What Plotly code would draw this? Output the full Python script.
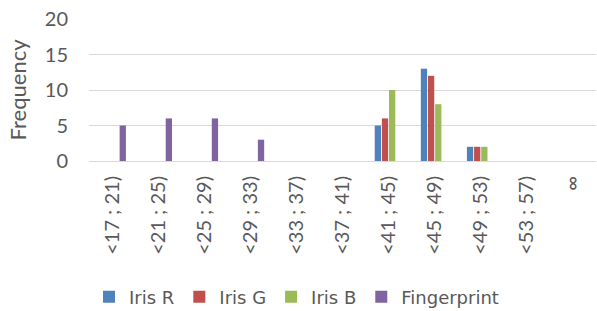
import plotly.graph_objects as go

categories = ["<17 ; 21)", "<21 ; 25)", "<25 ; 29)", "<29 ; 33)", "<33 ; 37)", "<37 ; 41)",
              "<41 ; 45)", "<45 ; 49)", "<49 ; 53)", "<53 ; 57)", "∞"]
iris_r = [0, 0, 0, 0, 0, 0, 5, 13, 2, 0, 0]
iris_g = [0, 0, 0, 0, 0, 0, 6, 12, 2, 0, 0]
iris_b = [0, 0, 0, 0, 0, 0, 10, 8, 2, 0, 0]
fingerprint = [5, 6, 6, 3, 0, 0, 0, 0, 0, 0, 0]

series = [("Iris R", iris_r, "#4F81BD"), ("Iris G", iris_g, "#C0504D"),
          ("Iris B", iris_b, "#9BBB59"), ("Fingerprint", fingerprint, "#8064A2")]

font_family = "Lato, Open Sans, sans-serif"
fig = go.Figure()
for name, vals, col in series:
    fig.add_trace(go.Bar(x=categories, y=vals, name=name, marker_color=col,
                         marker_line_width=0))

fig.update_layout(
    width=597, height=311,
    margin=dict(l=89, r=1, t=19, b=150, autoexpand=False),
    paper_bgcolor="white", plot_bgcolor="white",
    barmode="group", bargap=0.38, bargroupgap=0.12,
    font=dict(family=font_family, color="#595959", size=18),
    showlegend=True,
    legend=dict(orientation="h", x=0.0, xanchor="left", yref="container", y=0.045,
                yanchor="middle",
                font=dict(size=18, color="#595959", family="DejaVu Sans, sans-serif"),
                itemwidth=30, tracegroupgap=0),
)
fig.update_xaxes(tickangle=-90, showgrid=False, showline=True, linecolor="#D9D9D9",
                 linewidth=1, ticks="", tickfont=dict(size=20, color="#595959"),
                 ticklabelstandoff=6, automargin=False)
fig.update_yaxes(range=[0, 20], dtick=5, showgrid=True, gridcolor="#D9D9D9", gridwidth=1,
                 zeroline=False, showline=False, ticks="", automargin=False,
                 tickfont=dict(size=20, color="#595959"), ticklabelstandoff=20,
                 title=dict(text="Frequency", font=dict(size=22, color="#595959"), standoff=12))
fig.write_html("out.html", config={"displayModeBar": False},
               post_script="document.body.style.margin='0';")
